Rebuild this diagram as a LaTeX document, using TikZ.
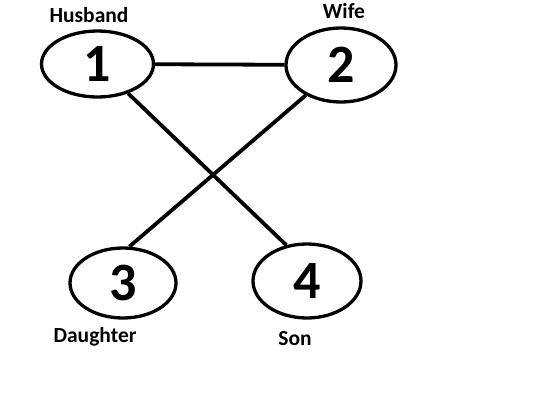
\documentclass[tikz,border=0pt]{standalone}
\usepackage{fontspec}
\setmainfont{Carlito}
\usetikzlibrary{shapes.geometric}
\begin{document}
\begin{tikzpicture}[x=1pt,y=-1pt,
  member/.style={draw,ellipse,line width=3.3pt,inner sep=0pt,font=\fontsize{54}{54}\selectfont\bfseries},
  role/.style={font=\fontsize{21.5}{21.5}\selectfont\bfseries},
  tie/.style={line width=3.8pt}]
\useasboundingbox[fill=white] (0,0) rectangle (550,413);
\node[member,minimum width=112pt,minimum height=66pt] (n1) at (97.5,64) {1};
\node[member,minimum width=110pt,minimum height=74pt] (n2) at (341,65) {2};
\node[member,minimum width=106pt,minimum height=70pt] (n3) at (123,283) {3};
\node[member,minimum width=108pt,minimum height=74pt] (n4) at (307,281) {4};
\node[role] (l1) at (89,15) {Husband};
\node[role] (l2) at (344,11) {Wife};
\node[role] (l3) at (95,337) {Daughter};
\node[role] (l4) at (295,339) {Son};
\draw[tie] (n1) -- (n2);
\draw[tie] (n1) -- (n4.120);
\draw[tie] (n2) -- (n3.80);
\end{tikzpicture}
\end{document}
